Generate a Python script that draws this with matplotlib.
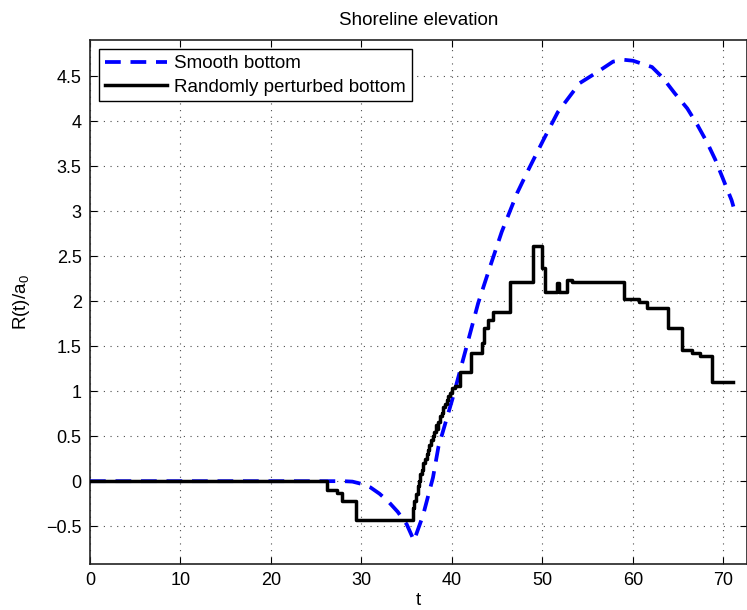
import matplotlib
matplotlib.use("Agg")
import matplotlib.pyplot as plt

plt.rcParams['font.family'] = ['Liberation Sans', 'DejaVu Sans']

# Smooth bottom: shoreline elevation
t_smooth = [0, 10, 20, 28, 29, 30, 31, 32, 33, 34, 35, 35.8, 36.8, 37.9, 38.5,
            40.1, 41.6, 42.9, 44.2, 45.5, 47.2, 48.3, 50.1, 51.7, 54.1, 56.0,
            57.8, 59.0, 60.0, 62.1, 63.3, 64.6, 66.0, 67.1, 68.2, 69.1, 69.9,
            70.9, 71.1]
r_smooth = [0, 0, 0, 0, -0.005, -0.03, -0.07, -0.14, -0.23, -0.34, -0.48, -0.66,
            -0.38, 0.04, 0.38, 0.93, 1.49, 1.98, 2.38, 2.77, 3.2, 3.43, 3.79,
            4.1, 4.42, 4.54, 4.66, 4.68, 4.67, 4.6, 4.48, 4.31, 4.14, 3.96,
            3.76, 3.57, 3.37, 3.12, 3.05]

# Randomly perturbed bottom (piecewise constant in time)
t_rand = [0, 26.2, 27.3, 27.8, 29.4, 35.7, 35.85, 36.0, 36.2, 36.35, 36.5, 36.7,
          36.85, 37.0, 37.2, 37.35, 37.5, 37.7, 37.85, 38.0, 38.2, 38.35, 38.5,
          38.7, 38.9, 39.05, 39.2, 39.4, 39.6, 39.8, 40.0, 40.3, 40.9, 42.1,
          43.3, 43.5, 44.0, 44.5, 46.4, 48.9, 50.0, 50.3, 51.6, 51.8, 52.1,
          52.7, 53.3, 59.0, 60.7, 61.5, 63.9, 65.4, 66.5, 67.4, 68.7, 71.1]
r_rand = [0, -0.10, -0.13, -0.22, -0.43, -0.30, -0.22, -0.14, -0.05, 0.00, 0.08,
          0.12, 0.20, 0.25, 0.30, 0.35, 0.40, 0.46, 0.50, 0.55, 0.62, 0.58, 0.66,
          0.72, 0.76, 0.82, 0.86, 0.90, 0.95, 0.98, 1.03, 1.06, 1.21, 1.42,
          1.54, 1.70, 1.79, 1.88, 2.21, 2.61, 2.37, 2.10, 2.20, 2.10, 2.10,
          2.23, 2.21, 2.02, 1.99, 1.92, 1.70, 1.46, 1.42, 1.39, 1.10, 1.10]

x_ticks = [0, 10, 20, 30, 40, 50, 60, 70]
y_ticks = [-0.5, 0, 0.5, 1, 1.5, 2, 2.5, 3, 3.5, 4, 4.5]
y_ticklabels = ['\u22120.5', '0', '0.5', '1', '1.5', '2', '2.5', '3', '3.5', '4', '4.5']

W, H = 747, 610
fig = plt.figure(figsize=(W / 100, H / 100), dpi=100)
left, right, top, bottom = 90, 747, 40, 564
ax = fig.add_axes([left / W, 1 - bottom / H, (right - left) / W, (bottom - top) / H])

ax.plot(t_smooth, r_smooth, color='#0000ff', lw=2.7, linestyle=(0, (4.2, 2.6)),
        label='Smooth bottom', zorder=3)
ax.plot(t_rand, r_rand, color='black', lw=2.5, drawstyle='steps-post',
        label='Randomly perturbed bottom', zorder=4)

ax.set_xlim(0, 72.6)
ax.set_ylim(-0.92, 4.9)
ax.set_xticks(x_ticks)
ax.set_yticks(y_ticks)
ax.set_yticklabels(y_ticklabels)

ax.grid(True, color='0.3', linestyle=(0, (1, 5)), linewidth=0.8)
ax.tick_params(direction='in', top=True, right=True, labelsize=13, length=5,
               width=0.8, pad=6)
for s in ax.spines.values():
    s.set_linewidth(1.2)
    s.set_color('#222222')

ax.set_title('Shoreline elevation', fontsize=13.5, pad=11)
ax.set_xlabel('t', fontsize=13.5, labelpad=2)
ax.set_ylabel('R(t)/a$_{\\mathregular{0}}$', fontsize=13.5, labelpad=10)

leg = ax.legend(loc='upper left', fontsize=13.5, fancybox=False, framealpha=1,
                edgecolor='black', handlelength=3.3, borderaxespad=0.5,
                borderpad=0.3, labelspacing=0.35, handletextpad=0.4)
leg.get_frame().set_linewidth(1.0)

fig.savefig('out.png', dpi=100)
